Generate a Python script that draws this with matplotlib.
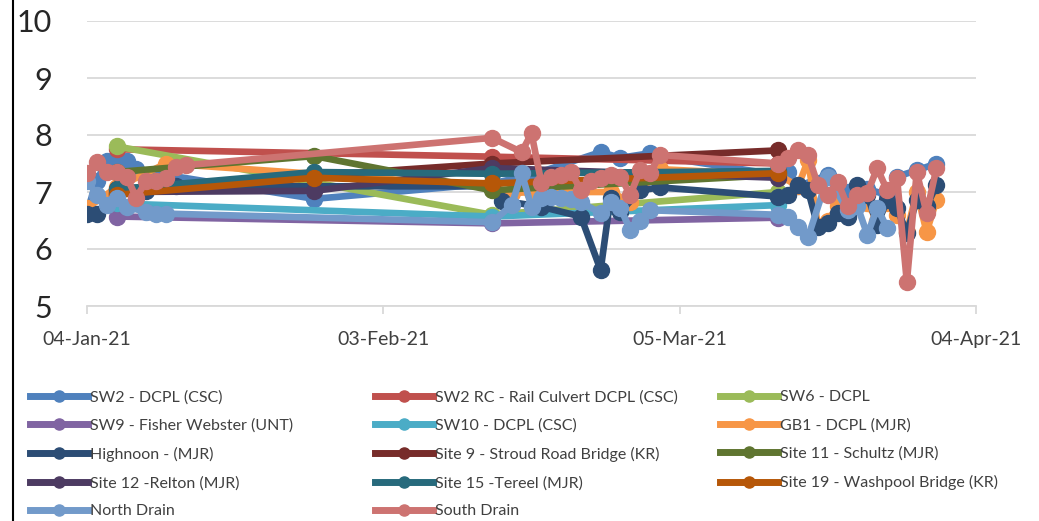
import matplotlib
matplotlib.use("Agg")
import matplotlib.pyplot as plt
from matplotlib.lines import Line2D
import pandas as pd

plt.rcParams['font.family'] = ['Lato', 'DejaVu Sans']

start_date = "2021-01-04"

# ---- data: (day offset from 04-Jan-21, pH value) ----
sw2_days = [0, 1, 2, 3, 4, 5, 8, 23, 41, 45, 52, 54, 57, 58, 70, 71, 72, 75, 77, 79, 81, 82, 84, 86]
sw2_vals = [6.65, 7.2, 7.55, 7.55, 7.55, 7.4, 7.3, 6.88, 7.15, 7.3, 7.7, 7.6, 7.68, 7.62, 7.3, 7.35, 7.1, 7.3, 7.0, 7.05, 6.95, 7.27, 7.38, 7.5]

sw2rc_days = [3, 41, 70]
sw2rc_vals = [7.75, 7.62, 7.5]

sw6_days = [3, 41, 70]
sw6_vals = [7.8, 6.6, 7.0]

sw9_days = [3, 41, 70]
sw9_vals = [6.57, 6.45, 6.55]

sw10_days = [3, 41, 70]
sw10_vals = [6.8, 6.57, 6.77]

gb1_days = [0, 3, 8, 41, 43, 45, 53, 55, 58, 70, 72, 73, 74, 75, 76, 77, 78, 79, 80, 81, 82, 83, 84, 85, 86]
gb1_vals = [6.72, 7.08, 7.5, 7.1, 6.98, 7.0, 7.0, 6.83, 7.4, 7.3, 7.1, 7.56, 6.4, 6.5, 6.75, 6.7, 6.8, 6.8, 6.5, 6.8, 6.6, 6.3, 7.0, 6.3, 6.86]

highnoon_days = [0, 1, 3, 6, 9, 41, 42, 46, 50, 52, 53, 54, 56, 58, 70, 71, 72, 73, 74, 75, 76, 77, 78, 79, 80, 81, 82, 83, 84, 85, 86]
highnoon_vals = [6.62, 6.62, 6.97, 7.02, 7.1, 7.1, 6.85, 6.74, 6.57, 5.63, 6.9, 6.65, 7.03, 7.08, 6.92, 6.95, 7.12, 7.03, 6.38, 6.45, 6.63, 6.57, 7.12, 6.95, 6.42, 6.86, 6.72, 6.28, 6.86, 6.75, 7.12]

site9_days = [3, 41, 70]
site9_vals = [7.05, 7.5, 7.73]

site11_days = [3, 23, 41, 70]
site11_vals = [7.35, 7.63, 7.03, 7.3]

site12_days = [3, 23, 41, 70]
site12_vals = [7.0, 7.02, 7.42, 7.25]

site15_days = [3, 23, 41, 70]
site15_vals = [7.05, 7.35, 7.32, 7.37]

site19_days = [3, 23, 41, 70]
site19_vals = [6.95, 7.25, 7.15, 7.33]

north_days = [0, 1, 2, 3, 4, 6, 7, 8, 41, 43, 44, 45, 46, 47, 48, 49, 50, 52, 53, 54, 55, 56, 57, 70, 71, 72, 73, 75, 77, 78, 79, 80, 81]
north_vals = [7.2, 6.95, 6.77, 6.9, 6.74, 6.65, 6.62, 6.62, 6.47, 6.77, 7.33, 6.74, 6.9, 6.91, 6.9, 6.88, 6.82, 6.63, 6.82, 6.72, 6.33, 6.5, 6.68, 6.6, 6.57, 6.38, 6.21, 7.27, 6.68, 6.75, 6.25, 6.72, 6.37]

south_days = [0, 1, 2, 3, 4, 5, 6, 7, 8, 9, 10, 41, 44, 45, 46, 47, 48, 49, 50, 51, 52, 53, 54, 55, 56, 57, 58, 70, 71, 72, 73, 74, 75, 76, 77, 78, 79, 80, 81, 82, 83, 84, 85, 86]
south_vals = [7.33, 7.53, 7.35, 7.35, 7.27, 6.9, 7.2, 7.2, 7.25, 7.44, 7.47, 7.95, 7.7, 8.03, 7.16, 7.27, 7.3, 7.35, 7.03, 7.2, 7.25, 7.3, 7.27, 6.95, 7.38, 7.33, 7.65, 7.5, 7.6, 7.73, 7.65, 7.12, 6.95, 7.18, 6.75, 6.95, 6.98, 7.42, 7.03, 7.25, 5.42, 7.35, 6.63, 7.42]

series_names = ["SW2 - DCPL (CSC)", "SW2 RC - Rail Culvert DCPL (CSC)", "SW6 - DCPL",
                "SW9 - Fisher Webster (UNT)", "SW10 - DCPL (CSC)", "GB1 - DCPL (MJR)",
                "Highnoon - (MJR)", "Site 9 - Stroud Road Bridge (KR)", "Site 11 - Schultz (MJR)",
                "Site 12 -Relton (MJR)", "Site 15 -Tereel (MJR)", "Site 19 - Washpool Bridge (KR)",
                "North Drain", "South Drain"]
series_days = [sw2_days, sw2rc_days, sw6_days, sw9_days, sw10_days, gb1_days, highnoon_days,
               site9_days, site11_days, site12_days, site15_days, site19_days, north_days, south_days]
series_vals = [sw2_vals, sw2rc_vals, sw6_vals, sw9_vals, sw10_vals, gb1_vals, highnoon_vals,
               site9_vals, site11_vals, site12_vals, site15_vals, site19_vals, north_vals, south_vals]
colors = ["#4F81BD", "#C0504D", "#9BBB59", "#8064A2", "#4BACC6", "#F79646", "#2C4D75",
          "#772C2A", "#5F7530", "#4D3B62", "#276A7C", "#B65708", "#729ACA", "#CD7371"]

tick_labels = ["04-Jan-21", "03-Feb-21", "05-Mar-21", "04-Apr-21"]

W, H = 1039, 521
fig = plt.figure(figsize=(W / 100, H / 100), dpi=100)
ax = fig.add_axes([87 / W, 1 - 306 / H, (976 - 87) / W, (306 - 21) / H])

base = pd.Timestamp(start_date)
for name, d, v, c in zip(series_names, series_days, series_vals, colors):
    dates = [base + pd.Timedelta(days=x) for x in d]
    ax.plot(dates, v, color=c, lw=4.8, marker='o', ms=11.5, mec=c, mfc=c,
            solid_joinstyle='round', solid_capstyle='round', label=name)

ticks = [pd.Timestamp(t) for t in ["2021-01-04", "2021-02-03", "2021-03-05", "2021-04-04"]]
ax.set_xlim(ticks[0], ticks[-1])
ax.set_xticks(ticks)
ax.set_xticklabels(tick_labels, fontsize=14, color="#404040")
ax.set_ylim(5, 10)
ax.set_yticks([5, 6, 7, 8, 9, 10])
ax.set_yticklabels(["5", "6", "7", "8", "9", "10"], fontsize=22, color="#262626")
ax.grid(axis='y', color="#D9D9D9", lw=1.3)
ax.set_axisbelow(True)
for s in ['left', 'right', 'top']:
    ax.spines[s].set_visible(False)
ax.spines['bottom'].set_color("#D9D9D9")
ax.spines['bottom'].set_linewidth(1.3)
ax.tick_params(axis='y', length=0, pad=25)
ax.tick_params(axis='x', length=6, width=1.3, color="#D9D9D9", pad=12, direction='out')

# figure border line at left
fig.add_artist(Line2D([12.5 / W, 12.5 / W], [0, 1], transform=fig.transFigure, color="black", lw=1.5))

# legend as three columns (row-major order)
col_x = [30 / W, 375 / W, 720 / W]
for ci in range(3):
    idx = list(range(ci, len(series_names), 3))
    hs = [Line2D([], [], color=colors[i], lw=5, marker='o', ms=8) for i in idx]
    fig.legend(hs, [series_names[i] for i in idx], loc='upper left',
               bbox_to_anchor=(col_x[ci], 1 - 390 / H), frameon=False,
               fontsize=11.5, handlelength=3.6, handletextpad=0.15,
               labelspacing=0.88, borderaxespad=0, borderpad=0, labelcolor="#404040")

fig.savefig("out.png", dpi=100)
